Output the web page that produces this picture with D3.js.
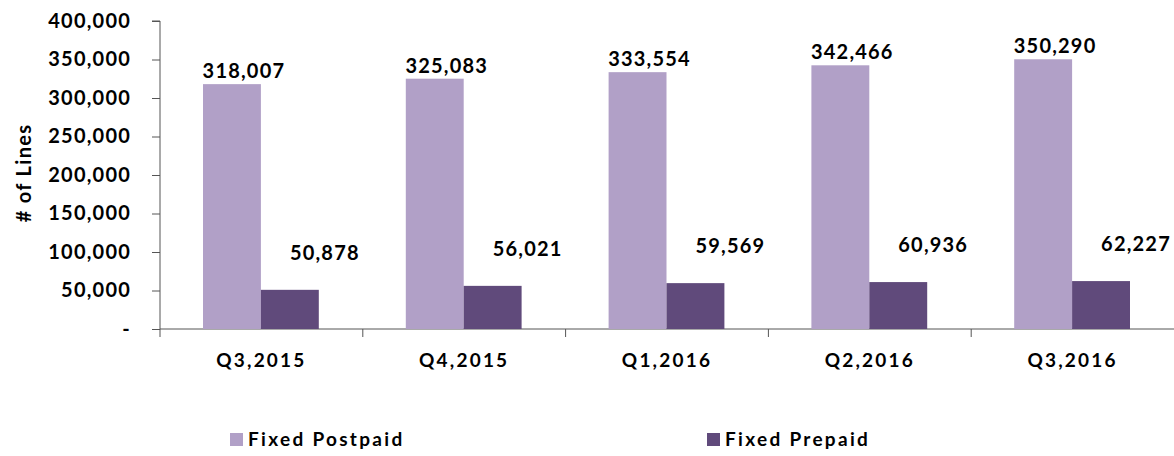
<!DOCTYPE html>
<html>
<head>
<meta charset="utf-8">
<script src="https://cdn.jsdelivr.net/npm/d3@7"></script>
<style>
  body { margin: 0; background: #fff; }
  text { font-family: Lato, "DejaVu Sans", sans-serif; font-weight: bold; fill: #000; }
  .axis path, .axis line { stroke: #555; }
</style>
</head>
<body>
<svg width="1174" height="456"></svg>
<script>
// data
var quarters = ["Q3,2015", "Q4,2015", "Q1,2016", "Q2,2016", "Q3,2016"];
var postpaid = [318007, 325083, 333554, 342466, 350290];
var prepaid = [50878, 56021, 59569, 60936, 62227];
var seriesNames = ["Fixed Postpaid", "Fixed Prepaid"];
var seriesColors = ["#b1a0c7", "#604a7b"];
var yTicks = [0, 50000, 100000, 150000, 200000, 250000, 300000, 350000, 400000];

var svg = d3.select("svg"),
    margin = {top: 21, right: 0, bottom: 127, left: 160},
    width = +svg.attr("width") - margin.left - margin.right,
    height = +svg.attr("height") - margin.top - margin.bottom;

var x = d3.scaleBand().domain(quarters).range([0, width]).paddingInner(0).paddingOuter(0);
var x1 = d3.scaleBand().domain([0, 1]).range([43, x.bandwidth() - 44]);
var y = d3.scaleLinear().domain([0, 400000]).range([height, 0]);

var fmt = d3.format(",");

var g = svg.append("g")
    .attr("transform", "translate(" + margin.left + "," + margin.top + ")");

// y axis
g.append("g")
    .attr("class", "axis")
    .call(d3.axisLeft(y).tickValues(yTicks).tickSize(8).tickPadding(21)
      .tickFormat(function(d) { return d === 0 ? "-" : fmt(d); }))
    .call(function(a) { a.select(".domain").attr("d", "M-8,0H0V" + height); })
    .selectAll("text")
      .style("font-size", "20px")
      .style("letter-spacing", "1.2px");

// y titel
svg.append("text")
    .attr("transform", "translate(31," + (margin.top + 152) + ") rotate(-90)")
    .attr("text-anchor", "middle")
    .style("font-size", "20px")
    .style("letter-spacing", "1.3px")
    .text("# of Lines");

// x axis, ticks tussen de groepen
var xa = g.append("g")
    .attr("class", "axis")
    .attr("transform", "translate(0," + height + ")");
xa.append("line").attr("x1", 0).attr("x2", width).attr("stroke", "#555");
xa.selectAll(".tk")
    .data(quarters)
    .enter().append("line")
    .attr("x1", function(d) { return x(d); })
    .attr("x2", function(d) { return x(d); })
    .attr("y1", 0).attr("y2", 8)
    .attr("stroke", "#555");
xa.selectAll(".lbl")
    .data(quarters)
    .enter().append("text")
    .attr("x", function(d) { return x(d) + x.bandwidth() / 2; })
    .attr("y", 38)
    .attr("text-anchor", "middle")
    .style("font-size", "19px")
    .style("letter-spacing", "2.2px")
    .text(function(d) { return d; });

// bars
var rows = quarters.map(function(q, i) { return {q: q, vals: [postpaid[i], prepaid[i]]}; });

var groups = g.selectAll(".grp")
    .data(rows)
    .enter().append("g")
    .attr("transform", function(d) { return "translate(" + x(d.q) + ",0)"; });

groups.selectAll("rect")
    .data(function(d) { return d.vals; })
    .enter().append("rect")
    .attr("x", function(d, i) { return x1(i); })
    .attr("y", function(d) { return y(d); })
    .attr("width", x1.bandwidth())
    .attr("height", function(d) { return height - y(d); })
    .attr("fill", function(d, i) { return seriesColors[i]; });

// labels
groups.selectAll(".val")
    .data(function(d) { return d.vals; })
    .enter().append("text")
    .attr("x", function(d, i) { return x1(i) + x1.bandwidth() / 2 + (i === 0 ? 12 : 35); })
    .attr("y", function(d, i) { return y(d) - (i === 0 ? 6 : 30); })
    .attr("text-anchor", "middle")
    .style("font-size", "20px")
    .style("letter-spacing", "1.2px")
    .text(function(d) { return fmt(d); });

// legend
var legX = [230, 707];
var leg = svg.selectAll(".leg")
    .data(seriesNames)
    .enter().append("g")
    .attr("transform", function(d, i) { return "translate(" + legX[i] + ",433)"; });
leg.append("rect").attr("width", 13).attr("height", 13)
    .attr("fill", function(d, i) { return seriesColors[i]; });
leg.append("text").attr("x", 18).attr("y", 13)
    .style("font-size", "19px")
    .style("letter-spacing", "2.3px")
    .text(function(d) { return d; });
</script>
</body>
</html>
